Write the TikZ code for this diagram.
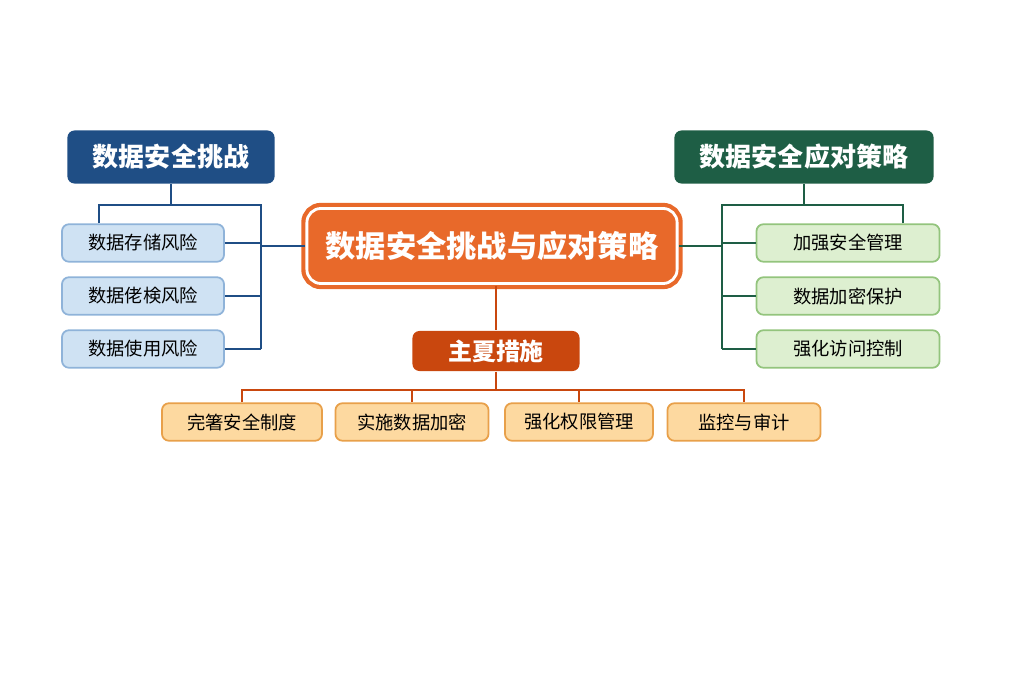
\documentclass[tikz,border=0pt]{standalone}
\usepackage{fontspec}
\setmainfont{Noto Sans CJK SC}
\usepackage{tikz}
\usetikzlibrary{positioning}
\definecolor{cOrange}{HTML}{E8692A}
\definecolor{cRed}{HTML}{C9470E}
\definecolor{cBlue}{HTML}{1F4E85}
\definecolor{cGreen}{HTML}{1E5E45}
\definecolor{lBlue}{HTML}{CFE2F3}
\definecolor{bBlue}{HTML}{8FB3D9}
\definecolor{lGreen}{HTML}{DDEFD0}
\definecolor{bGreen}{HTML}{93C47D}
\definecolor{lOrange}{HTML}{FDD9A0}
\definecolor{bOrange}{HTML}{E8A04A}
\begin{document}
\begin{tikzpicture}[x=0.01cm,y=-0.01cm]
    \tikzstyle{every node}=[rounded corners=2pt,inner sep=0pt,align=center]
    \tikzstyle{title}=[font=\fontsize{7.4}{8}\selectfont\bfseries,text=white,minimum height=0.53cm]
    \tikzstyle{leaf}=[font=\fontsize{5.2}{6}\selectfont,minimum height=0.375cm,line width=0.5pt]
    \tikzstyle{bline}=[draw=cBlue,line width=0.7pt]
    \tikzstyle{gline}=[draw=cGreen,line width=0.7pt]
    \tikzstyle{oline}=[draw=cRed,line width=0.7pt]
    \useasboundingbox (0,0) rectangle (1024,683);

    \node[fill=cOrange,draw=cOrange,line width=1.2pt,double=white,double distance=0.8pt,
          minimum width=3.7cm,minimum height=0.75cm,rounded corners=4pt,
          font=\fontsize{8.6}{9}\selectfont\bfseries,text=white] (main) at (492,246) {数据安全挑战与应对策略};

    \node[title,fill=cBlue,minimum width=2.07cm] (chal) at (171,157) {数据安全挑战};
    \node[title,fill=cGreen,minimum width=2.59cm] (strat) at (804,157) {数据安全应对策略};
    \node[title,fill=cRed,minimum width=1.67cm,minimum height=0.4cm,font=\fontsize{6.8}{7}\selectfont\bfseries] (meas) at (496,351) {主夏措施};

    % left branch
    \node[leaf,fill=lBlue,draw=bBlue,minimum width=1.62cm] (c1) at (143,243) {数据存储风险};
    \node[leaf,fill=lBlue,draw=bBlue,minimum width=1.62cm] (c2) at (143,296) {数据佬検风险};
    \node[leaf,fill=lBlue,draw=bBlue,minimum width=1.62cm] (c3) at (143,349) {数据使用风险};
    \coordinate (lb) at (261,205);
    \draw[bline] (chal.south) -- (171,205);
    \draw[bline] (c1.north -| 99,0) -- (99,205) -- (lb) -- (261,349);
    \foreach \c in {c1,c2,c3}{%
      \draw[bline] (\c.east) -- (\c.east -| lb);}
    \draw[bline] (main.west) -- (main.west -| lb);

    % right branch
    \node[leaf,fill=lGreen,draw=bGreen,minimum width=1.83cm] (s1) at (848,243) {加强安全管理};
    \node[leaf,fill=lGreen,draw=bGreen,minimum width=1.83cm] (s2) at (848,296) {数据加密保护};
    \node[leaf,fill=lGreen,draw=bGreen,minimum width=1.83cm] (s3) at (848,349) {强化访问控制};
    \coordinate (rb) at (722,205);
    \draw[gline] (strat.south) -- (804,205);
    \draw[gline] (s1.north -| 903,0) -- (903,205) -- (rb) -- (722,349);
    \foreach \s in {s1,s2,s3}{%
      \draw[gline] (\s.west) -- (\s.west -| rb);}
    \draw[gline] (main.east) -- (main.east -| rb);

    % measures
    \node[leaf,fill=lOrange,draw=bOrange,minimum width=1.6cm] (m1) at (242,422) {完箸安全制度};
    \node[leaf,fill=lOrange,draw=bOrange,minimum width=1.53cm] (m2) at (412,422) {实施数据加密};
    \node[leaf,fill=lOrange,draw=bOrange,minimum width=1.48cm] (m3) at (579,422) {强化权限管理};
    \node[leaf,fill=lOrange,draw=bOrange,minimum width=1.53cm] (m4) at (744,422) {监控与审计};
    \draw[oline] (main.south -| meas.north) -- (meas.north);
    \coordinate (mb) at (496,390);
    \draw[oline] (meas.south) -- (mb);
    \draw[oline] (m1.north) -- (m1.north |- mb) -- (m4.north |- mb) -- (m4.north);
    \foreach \m in {m2,m3}{%
      \draw[oline] (\m.north |- mb) -- (\m.north);}
\end{tikzpicture}
\end{document}
